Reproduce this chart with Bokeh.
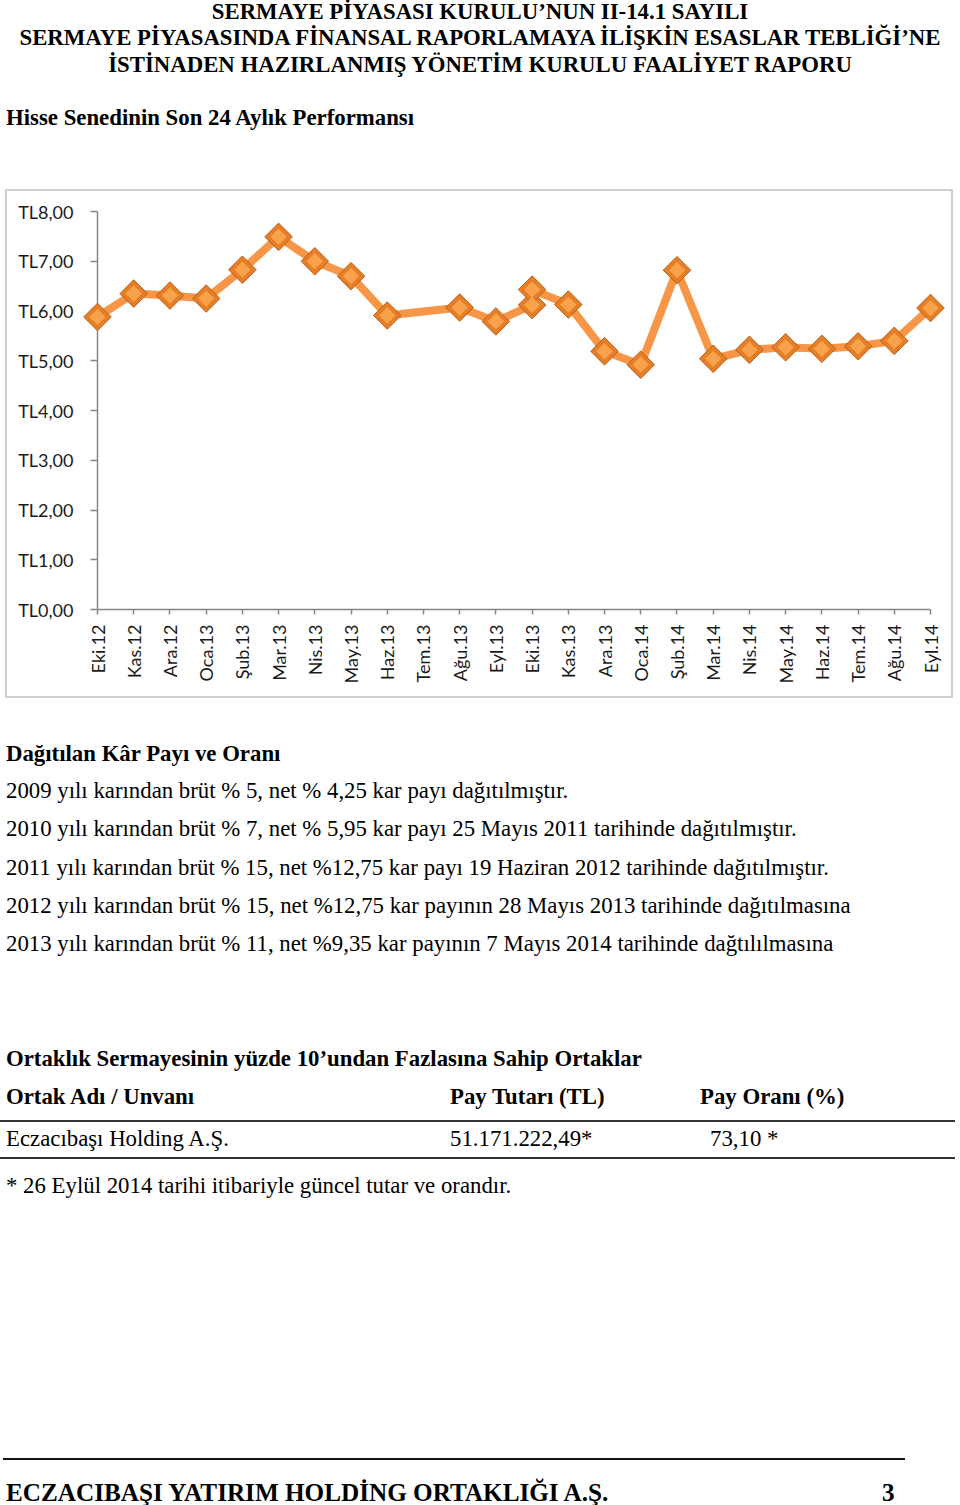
import math
from bokeh.plotting import figure
from bokeh.models import Div, Range1d, FixedTicker, ColumnDataSource
from bokeh.layouts import column
from bokeh.embed import file_html
from bokeh.resources import INLINE

# ---------------- data ----------------
months = ["Eki.12", "Kas.12", "Ara.12", "Oca.13", "Şub.13", "Mar.13", "Nis.13", "May.13",
          "Haz.13", "Tem.13", "Ağu.13", "Eyl.13", "Eki.13", "Kas.13", "Ara.13", "Oca.14",
          "Şub.14", "Mar.14", "Nis.14", "May.14", "Haz.14", "Tem.14", "Ağu.14", "Eyl.14"]

obs_month = ["Eki.12", "Kas.12", "Ara.12", "Oca.13", "Şub.13", "Mar.13", "Nis.13", "May.13",
             "Haz.13", "Ağu.13", "Eyl.13", "Eki.13", "Eki.13", "Kas.13", "Ara.13", "Oca.14",
             "Şub.14", "Mar.14", "Nis.14", "May.14", "Haz.14", "Tem.14", "Ağu.14", "Eyl.14"]
obs_price = [5.88, 6.35, 6.31, 6.25, 6.83, 7.49, 7.00, 6.70,
             5.91, 6.07, 5.79, 6.12, 6.43, 6.13, 5.19, 4.92,
             6.82, 5.04, 5.22, 5.27, 5.24, 5.29, 5.40, 6.06]

y_ticks = [0, 1, 2, 3, 4, 5, 6, 7, 8]
y_tick_labels = ["TL0,00", "TL1,00", "TL2,00", "TL3,00", "TL4,00",
                 "TL5,00", "TL6,00", "TL7,00", "TL8,00"]

# ---------------- chart ----------------
src = ColumnDataSource(dict(x=[months.index(m) for m in obs_month], y=obs_price))

p = figure(width=948, height=509, x_range=Range1d(0, len(months) - 1), y_range=Range1d(0, 8),
           output_backend="svg", toolbar_location=None,
           min_border_left=92, min_border_right=23, min_border_top=22, min_border_bottom=89,
           margin=0,
           styles={"outline": "2px solid #cfcfcf", "outline-offset": "-2px",
                   "background": "white"})
p.xgrid.grid_line_color = None
p.ygrid.grid_line_color = None
p.outline_line_color = None
p.background_fill_color = "white"
p.border_fill_color = None

ax_col = "#868686"
p.yaxis.ticker = FixedTicker(ticks=y_ticks)
p.yaxis.major_label_overrides = dict(zip(y_ticks, y_tick_labels))
p.xaxis.ticker = FixedTicker(ticks=list(range(len(months))))
p.xaxis.major_label_overrides = {i: m for i, m in enumerate(months)}
p.xaxis.major_label_orientation = math.pi / 2

for ax in (p.xaxis[0], p.yaxis[0]):
    ax.axis_line_color = ax_col
    ax.axis_line_width = 1.5
    ax.major_tick_line_color = ax_col
    ax.major_tick_line_width = 1.5
    ax.minor_tick_line_color = None
    ax.major_tick_in = 0
    ax.major_label_text_font = "Lato"
    ax.major_label_text_font_size = "18px"
    ax.major_label_text_color = "#1a1a1a"
p.yaxis.major_tick_out = 7
p.yaxis.major_label_standoff = 17
p.xaxis.major_tick_out = 5
p.xaxis.major_label_standoff = 10

r1 = p.line("x", "y", source=src, line_color="#F79646", line_width=8, line_join="round")
r2 = p.scatter("x", "y", source=src, marker="square", angle=math.pi / 4, size=19.5,
               fill_color="#E67E28", line_color="#B8621A", line_width=1)
r3 = p.scatter("x", "y", source=src, marker="square", angle=math.pi / 4, size=11.5,
               fill_color="#F9A24C", line_color=None)
for r in (r1, r2, r3):
    r.level = "overlay"

# ---------------- text ----------------
SERIF = "'Liberation Serif', 'Times New Roman', serif"
FS = 22.8
OX = 5  # page x of the layout's left edge


def t(text, left, baseline, origin, size=FS, bold=False):
    w = "bold" if bold else "normal"
    top = baseline - origin - 0.8375 * size
    return (f'<div style="position:absolute;left:{left - OX}px;top:{top:.1f}px;white-space:nowrap;'
            f'font-size:{size}px;line-height:{size}px;font-weight:{w};">{text}</div>')


def centered(text, baseline, origin, size=FS):
    top = baseline - origin - 0.8375 * size
    return (f'<div style="position:absolute;left:{-OX}px;width:960px;top:{top:.1f}px;text-align:center;'
            f'white-space:nowrap;font-size:{size}px;line-height:{size}px;font-weight:bold;">{text}</div>')


def hr(left, y, right, origin, thick=2, color="#222"):
    return (f'<div style="position:absolute;left:{left - OX}px;top:{y - origin - thick / 2:.1f}px;'
            f'width:{right - left}px;height:{thick}px;background:{color};"></div>')


O1 = 8
top_html = (f'<div style="position:relative;width:948px;height:181px;font-family:{SERIF};color:#000;">'
            + centered("SERMAYE PİYASASI KURULU’NUN II-14.1 SAYILI", 20, O1)
            + centered("SERMAYE PİYASASINDA FİNANSAL RAPORLAMAYA İLİŞKİN ESASLAR TEBLİĞİ’NE", 46.5, O1)
            + centered("İSTİNADEN HAZIRLANMIŞ YÖNETİM KURULU FAALİYET RAPORU", 73, O1)
            + t("Hisse Senedinin Son 24 Aylık Performansı", 6, 126, O1, bold=True)
            + '</div>')

body_lines = [
    "2009 yılı karından brüt % 5, net % 4,25 kar payı dağıtılmıştır.",
    "2010 yılı karından brüt % 7, net % 5,95 kar payı 25 Mayıs 2011 tarihinde dağıtılmıştır.",
    "2011 yılı karından brüt % 15, net %12,75 kar payı 19 Haziran 2012 tarihinde dağıtılmıştır.",
    "2012 yılı karından brüt % 15, net %12,75 kar payının 28 Mayıs 2013 tarihinde dağıtılmasına",
    "2013 yılı karından brüt % 11, net %9,35 kar payının 7 Mayıs 2014 tarihinde dağtılılmasına",
]

O2 = 698
bot = (f'<div style="position:relative;width:948px;height:799px;font-family:{SERIF};color:#000;">'
       + t("Dağıtılan Kâr Payı ve Oranı", 6, 762, O2, bold=True))
for i, line in enumerate(body_lines):
    bot += t(line, 6, 799 + 38.3 * i, O2)
bot += t("Ortaklık Sermayesinin yüzde 10’undan Fazlasına Sahip Ortaklar", 6, 1067, O2, bold=True)
bot += t("Ortak Adı / Unvanı", 6, 1105, O2, bold=True)
bot += t("Pay Tutarı (TL)", 450, 1105, O2, bold=True)
bot += t("Pay Oranı (%)", 700, 1105, O2, bold=True)
bot += hr(0, 1121, 955, O2, 2, "#333")
bot += t("Eczacıbaşı Holding A.Ş.", 6, 1147, O2)
bot += t("51.171.222,49*", 450, 1147, O2)
bot += t("73,10 *", 710, 1147, O2)
bot += hr(0, 1158, 955, O2, 2, "#333")
bot += t("* 26 Eylül 2014 tarihi itibariyle güncel tutar ve orandır.", 6, 1194, O2)
bot += hr(3, 1459, 905, O2, 2, "#111")
bot += t("ECZACIBAŞI YATIRIM HOLDİNG ORTAKLIĞI A.Ş.", 6, 1501.5, O2, size=25.2, bold=True)
bot += t("3", 882, 1501.5, O2, size=25.2, bold=True)
bot += '</div>'

div_top = Div(text=top_html, width=948, height=181, margin=0)
div_bot = Div(text=bot, width=948, height=799, margin=0)

layout = column(div_top, p, div_bot, spacing=0, margin=(8, 0, 0, OX))

open("out.html", "w").write(file_html(layout, INLINE))
